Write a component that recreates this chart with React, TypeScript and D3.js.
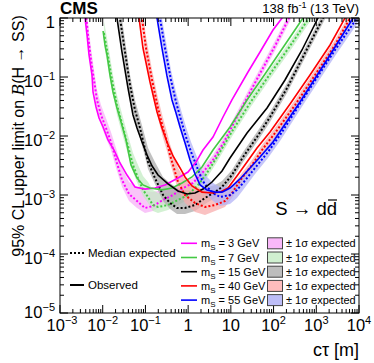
import React from "react";
import * as d3 from "d3";

// ---------- data (cτ [m], limit) ----------
const obs3: [number, number][] = [[0.00365,1.17],[0.00385,1],[0.00429,0.515],[0.00478,0.236],[0.00561,0.108],[0.00593,0.0557],[0.00697,0.031],[0.00819,0.0202],[0.0102,0.0142],[0.0133,0.00855],[0.0184,0.00579],[0.0254,0.00349],[0.037,0.00218],[0.057,0.00137],[0.0977,0.00126],[0.167,0.00131],[0.287,0.00148],[0.579,0.00194],[0.993,0.00245],[1.53,0.00362],[2.23,0.00579],[3.82,0.00962],[6.55,0.021],[10.6,0.0408],[25.2,0.1215],[48.2,0.265],[97,0.626],[158,1],[176,1.17]];
// [cτ, median expected, -1σ, +1σ]
const exp3: number[][] = [[0.00406,1.169,0.732,1.867],[0.00453,0.515,0.322,0.823],[0.00532,0.194,0.1215,0.31],[0.00625,0.0889,0.0602,0.131],[0.00735,0.0408,0.0276,0.0602],[0.00912,0.0227,0.0154,0.0335],[0.0119,0.0137,0.00925,0.0202],[0.0156,0.00791,0.00579,0.0117],[0.0205,0.00392,0.00287,0.00626],[0.0283,0.0018,0.00137,0.00287],[0.0413,0.00104,0.000791,0.00166],[0.0635,0.000791,0.000602,0.00137],[0.0977,0.000602,0.000495,0.00117],[0.15,0.000651,0.000536,0.00112],[0.258,0.000823,0.000677,0.00122],[0.442,0.001,0.000823,0.00137],[0.759,0.00131,0.00108,0.00166],[1.3,0.0016,0.00131,0.00194],[2.23,0.00245,0.00202,0.00298],[3.82,0.00392,0.00323,0.00476],[7.29,0.00855,0.00704,0.0104],[13.9,0.021,0.0173,0.0255],[28.1,0.0557,0.0458,0.0677],[56.6,0.142,0.117,0.173],[114,0.363,0.298,0.441],[230,1,0.823,1.215],[270,1.264,1.04,1.54]];

const obs7: [number, number][] = [[0.0102,0.602],[0.0113,0.349],[0.0126,0.236],[0.0148,0.108],[0.0174,0.0557],[0.0216,0.0298],[0.0268,0.0173],[0.0351,0.00855],[0.0459,0.00323],[0.0635,0.00194],[0.0877,0.00148],[0.128,0.00131],[0.244,0.00122],[0.419,0.00131],[0.719,0.0016],[1.23,0.00202],[2.11,0.00298],[3.82,0.00579],[9.55,0.0142],[23.9,0.0408],[63.1,0.1124],[176,0.335],[489,1],[575,1.215]];
const exp7: number[][] = [[0.0107,0.557,0.349,0.889],[0.0126,0.287,0.18,0.458],[0.0148,0.142,0.0889,0.227],[0.0174,0.0732,0.0495,0.108],[0.0216,0.0335,0.0227,0.0495],[0.0268,0.0187,0.01265,0.0276],[0.0333,0.0104,0.00732,0.0154],[0.0413,0.00579,0.00424,0.00889],[0.0512,0.00323,0.00245,0.00515],[0.0671,0.00194,0.00148,0.00323],[0.0877,0.00122,0.000962,0.0021],[0.115,0.000925,0.000732,0.00166],[0.15,0.000677,0.000536,0.00122],[0.197,0.000626,0.000495,0.00108],[0.338,0.000677,0.000557,0.00108],[0.579,0.000823,0.000677,0.00117],[0.993,0.001,0.000823,0.00131],[1.7,0.00148,0.00122,0.0018],[2.48,0.0021,0.00173,0.00255],[4.74,0.0044,0.00362,0.00536],[11.2,0.01265,0.0104,0.0154],[28.1,0.0363,0.0298,0.0441],[82.6,0.1124,0.0925,0.137],[243,0.335,0.276,0.408],[676,1,0.823,1.215],[794,1.215,1.0,1.48]];

const obs15: [number, number][] = [[0.0205,1.264],[0.0216,1],[0.0283,0.265],[0.0391,0.0651],[0.0512,0.0227],[0.0635,0.0137],[0.0832,0.00791],[0.109,0.00476],[0.143,0.0031],[0.197,0.00218],[0.338,0.00154],[0.579,0.00117],[0.941,0.00104],[1.45,0.00108],[2.23,0.00126],[3.62,0.00166],[6.21,0.00255],[9.55,0.00424],[23.9,0.01124],[70.3,0.0298],[185,0.0889],[463,0.287],[1099,1],[1224,1.169]];
const exp15: number[][] = [[0.0241,1.264,0.791,2.02],[0.0254,1,0.626,1.6],[0.0333,0.265,0.166,0.424],[0.0436,0.0732,0.0495,0.108],[0.057,0.0276,0.0187,0.0408],[0.0746,0.0137,0.00925,0.0202],[0.0927,0.00704,0.00515,0.01124],[0.115,0.00362,0.00276,0.00626],[0.167,0.00194,0.00154,0.00362],[0.258,0.001,0.000791,0.00202],[0.376,0.000732,0.000579,0.0016],[0.549,0.000602,0.000476,0.00131],[0.845,0.000602,0.000476,0.00122],[1.45,0.000677,0.000536,0.00117],[2.48,0.00089,0.000704,0.00131],[4.26,0.00112,0.00089,0.00148],[6.21,0.00137,0.00108,0.00173],[10.6,0.00218,0.0018,0.00265],[19.3,0.0044,0.00362,0.00536],[40.9,0.00962,0.00791,0.0117],[82.6,0.021,0.0173,0.0255],[207,0.0651,0.0536,0.0791],[544,0.255,0.21,0.31],[1439,1,0.823,1.215],[1603,1.169,0.96,1.42]];

const obs40: [number, number][] = [[0.0671,1.264],[0.0708,1],[0.0877,0.31],[0.128,0.0823],[0.187,0.0255],[0.244,0.0137],[0.32,0.00791],[0.442,0.00458],[0.646,0.00287],[0.845,0.00202],[1.23,0.00142],[2.11,0.00112],[3.62,0.00108],[5.57,0.00112],[8.57,0.00131],[13.9,0.0021],[23.9,0.00362],[40.9,0.00626],[82.6,0.0117],[243,0.0349],[713,0.108],[2099,0.349],[4710,1],[5250,1.169]];
const exp40: number[][] = [[0.0788,1.264,0.791,2.02],[0.0832,1,0.626,1.6],[0.103,0.31,0.194,0.495],[0.143,0.0889,0.0602,0.131],[0.197,0.0298,0.0202,0.0441],[0.258,0.0137,0.00925,0.0202],[0.32,0.00791,0.00557,0.0117],[0.376,0.00476,0.00349,0.00732],[0.442,0.00323,0.00236,0.00515],[0.579,0.00166,0.00122,0.00287],[0.845,0.001,0.000732,0.00187],[1.45,0.000732,0.000515,0.00142],[2.48,0.000626,0.000458,0.00122],[4.26,0.000677,0.000536,0.00117],[7.29,0.000791,0.000626,0.00117],[10.6,0.00108,0.00089,0.00142],[18.2,0.00194,0.0016,0.00236],[31.3,0.00323,0.00265,0.00392],[53.7,0.00579,0.00476,0.00704],[108,0.01124,0.00925,0.0137],[318,0.0335,0.0276,0.0408],[934,0.108,0.0889,0.131],[2748,0.349,0.287,0.424],[6166,1,0.823,1.215],[6871,1.169,0.96,1.42]];

const obs55: [number, number][] = [[0.177,1.264],[0.187,1],[0.244,0.31],[0.32,0.104],[0.419,0.0408],[0.52,0.0245],[0.646,0.0142],[0.845,0.00761],[1.107,0.00392],[1.45,0.00227],[1.9,0.00148],[2.77,0.00122],[4.26,0.00112],[6.21,0.00112],[9.55,0.00131],[16.4,0.00187],[28.1,0.00287],[48.2,0.0044],[97,0.00791],[416,0.0377],[2099,0.236],[7244,1],[8072,1.169]];
const exp55: number[][] = [[0.208,1.264,0.791,2.02],[0.219,1,0.626,1.6],[0.287,0.31,0.194,0.495],[0.397,0.0889,0.0602,0.131],[0.52,0.0377,0.0255,0.0557],[0.681,0.0187,0.01265,0.0276],[0.892,0.00962,0.00651,0.0142],[1.17,0.00536,0.00377,0.00791],[1.61,0.00298,0.00218,0.0044],[2.11,0.0018,0.00131,0.00265],[2.77,0.00137,0.001,0.00202],[3.82,0.00108,0.000791,0.0016],[5.57,0.000925,0.000651,0.00137],[9.55,0.001,0.000704,0.00142],[13.9,0.00122,0.00089,0.0016],[19.3,0.0016,0.00122,0.00202],[36.8,0.00287,0.00227,0.00362],[74.1,0.00536,0.00424,0.00677],[142,0.0104,0.00823,0.01315],[544,0.0476,0.0377,0.0602],[2748,0.287,0.227,0.363],[8995,1,0.791,1.264],[9470,1.169,0.93,1.48]];

const massLabels = ["3", "7", "15", "40", "55"];
const lineColors = ["#ff00ff", "#44c944", "#000000", "#ff0000", "#0000ff"];
const bandColors = ["#f7aef7", "#c2ebc2", "#a9a9a9", "#f8aaaa", "#b0b0f6"];
const legendBoxColors = ["#f9b8f9", "#d0f0d0", "#bdbdbd", "#ffbdbd", "#bdbdf7"];

const xTickExps = [-3, -2, -1, 0, 1, 2, 3, 4];
const xTickLabels: [string, string][] = [["10", "−3"], ["10", "−2"], ["10", "−1"], ["1", ""], ["10", ""], ["10", "2"], ["10", "3"], ["10", "4"]];
const yTickExps = [0, -1, -2, -3, -4, -5];
const yTickLabels: [string, string][] = [["1", ""], ["10", "−1"], ["10", "−2"], ["10", "−3"], ["10", "−4"], ["10", "−5"]];

const obsSets = [obs3, obs7, obs15, obs40, obs55];
const expSets = [exp3, exp7, exp15, exp40, exp55];

const W = 374, H = 363;
const L = 60, R = 359, T = 18, B = 313;
const FONT = "'Liberation Sans', Arial, Helvetica, sans-serif";

export default function App() {
  const x = d3.scaleLog().domain([1e-3, 1e4]).range([L, R]);
  const y = d3.scaleLog().domain([1e-5, 1]).range([B, T]);

  const line = d3.line<number[]>().x((d) => x(d[0])).y((d) => y(d[1]));
  const area = d3.area<number[]>().x((d) => x(d[0])).y0((d) => y(d[2])).y1((d) => y(d[3]));

  const series = massLabels.map((m, i) => ({
    m, color: lineColors[i], band: bandColors[i], box: legendBoxColors[i], obs: obsSets[i], exp: expSets[i],
  }));

  const xMinor: number[] = [];
  for (let e = -3; e < 4; e++) for (let k = 2; k <= 9; k++) xMinor.push(k * Math.pow(10, e));
  const yMinor: number[] = [];
  for (let e = -5; e < 0; e++) for (let k = 2; k <= 9; k++) yMinor.push(k * Math.pow(10, e));

  const rowY = (i: number) => 243.3 + i * 14.2;

  return (
    <svg width={W} height={H} style={{ position: "absolute", left: 0, top: 0, background: "#fff" }} fontFamily={FONT}>
      <defs>
        <clipPath id="plotclip"><rect x={L} y={T} width={R - L} height={B - T} /></clipPath>
      </defs>
      <rect x={0} y={0} width={W} height={H} fill="#fff" />

      <g clipPath="url(#plotclip)">
        {series.map((s) => (
          <path key={"b" + s.m} d={area(s.exp) || ""} fill={s.band} fillOpacity={0.72} stroke="none" />
        ))}
        {series.map((s) => (
          <path key={"e" + s.m} d={line(s.exp) || ""} fill="none" stroke={s.color} strokeWidth={2} strokeDasharray="2 2" />
        ))}
        {series.map((s) => (
          <path key={"o" + s.m} d={line(s.obs) || ""} fill="none" stroke={s.color} strokeWidth={1.6} />
        ))}
      </g>

      {/* frame and ticks */}
      <rect x={L} y={T} width={R - L} height={B - T} fill="none" stroke="#000" strokeWidth={1} />
      {xTickExps.map((e) => {
        const px = x(Math.pow(10, e));
        return (
          <g key={"xt" + e} stroke="#000" strokeWidth={1}>
            <line x1={px} x2={px} y1={B} y2={B - 8} />
            <line x1={px} x2={px} y1={T} y2={T + 8} />
          </g>
        );
      })}
      {xMinor.map((v, i) => {
        const px = x(v);
        return (
          <g key={"xm" + i} stroke="#000" strokeWidth={1}>
            <line x1={px} x2={px} y1={B} y2={B - 4} />
            <line x1={px} x2={px} y1={T} y2={T + 4} />
          </g>
        );
      })}
      {yTickExps.map((e) => {
        const py = y(Math.pow(10, e));
        return (
          <g key={"yt" + e} stroke="#000" strokeWidth={1}>
            <line x1={L} x2={L + 8} y1={py} y2={py} />
            <line x1={R} x2={R - 8} y1={py} y2={py} />
          </g>
        );
      })}
      {yMinor.map((v, i) => {
        const py = y(v);
        return (
          <g key={"ym" + i} stroke="#000" strokeWidth={1}>
            <line x1={L} x2={L + 4} y1={py} y2={py} />
            <line x1={R} x2={R - 4} y1={py} y2={py} />
          </g>
        );
      })}

      {/* tick labels */}
      {xTickExps.map((e, i) => (
        <text key={"xl" + e} x={x(Math.pow(10, e)) + (i === 0 ? 2 : 0)} y={331} textAnchor="middle" fontSize={16.5} fill="#000">
          <tspan>{xTickLabels[i][0]}</tspan>
          {xTickLabels[i][1] && <tspan dy={-7} fontSize={11}>{xTickLabels[i][1]}</tspan>}
        </text>
      ))}
      {yTickExps.map((e, i) => (
        <text key={"yl" + e} x={55} y={y(Math.pow(10, e)) + (e === -5 ? 5 : 10)} textAnchor="end" fontSize={16.5} fill="#000">
          <tspan>{yTickLabels[i][0]}</tspan>
          {yTickLabels[i][1] && <tspan dy={-7} fontSize={11}>{yTickLabels[i][1]}</tspan>}
        </text>
      ))}

      {/* axis titles */}
      <text x={R} y={356} textAnchor="end" fontSize={18} fill="#000">cτ [m]</text>
      <text transform="translate(24,136) rotate(-90)" textAnchor="middle" fontSize={16} fill="#000">
        95% CL upper limit on <tspan fontStyle="italic" fontFamily="'DejaVu Serif', serif">B</tspan>(H → SS)
      </text>

      {/* header */}
      <text x={60} y={14} fontSize={17} fontWeight="bold" fill="#000">CMS</text>
      <text x={R} y={13} textAnchor="end" fontSize={13} fill="#000">
        138 fb<tspan dy={-5} fontSize={9}>-1</tspan><tspan dy={5}> (13 TeV)</tspan>
      </text>

      {/* process label */}
      <text x={337} y={215} textAnchor="end" fontSize={18.5} fill="#000">S → dd</text>
      <line x1={328} x2={337} y1={200} y2={200} stroke="#000" strokeWidth={1.2} />

      {/* left legend */}
      <line x1={70} x2={84} y1={253} y2={253} stroke="#000" strokeWidth={2} strokeDasharray="2 2" />
      <text x={88} y={257} fontSize={11.5} fill="#000">Median expected</text>
      <line x1={70} x2={84} y1={285} y2={285} stroke="#000" strokeWidth={2} />
      <text x={88} y={289} fontSize={11.5} fill="#000">Observed</text>

      {/* right legend */}
      {series.map((s, i) => (
        <g key={"lg" + s.m}>
          <line x1={181} x2={197} y1={rowY(i)} y2={rowY(i)} stroke={s.color} strokeWidth={1.6} />
          <text x={201} y={rowY(i) + 4} fontSize={11} fill="#000">
            m<tspan dy={3} fontSize={8}>S</tspan><tspan dy={-3}> = {s.m} GeV</tspan>
          </text>
          <rect x={267.5} y={rowY(i) - 5.5} width={15} height={11} fill={s.box} stroke="#444" strokeWidth={1} />
          <text x={286} y={rowY(i) + 4} fontSize={11} fill="#000">± 1σ expected</text>
        </g>
      ))}
    </svg>
  );
}
